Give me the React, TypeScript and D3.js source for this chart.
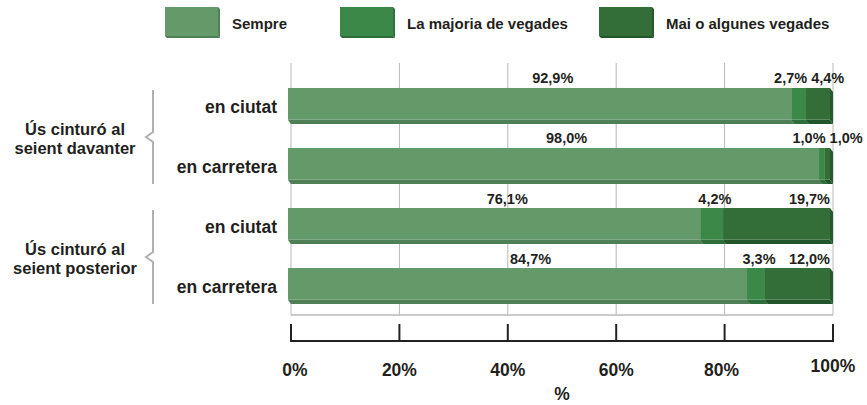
import { useRef, useEffect } from "react";
import * as d3 from "d3";

const seriesNames = ["Sempre", "La majoria de vegades", "Mai o algunes vegades"];
const rowLabels = ["en ciutat", "en carretera", "en ciutat", "en carretera"];
const groupLabels = [
  ["Ús cinturó al", "seient davanter"],
  ["Ús cinturó al", "seient posterior"],
];
const sempre = [92.9, 98.0, 76.1, 84.7];
const majoria = [2.7, 1.0, 4.2, 3.3];
const mai = [4.4, 1.0, 19.7, 12.0];
const tickValues = [0, 20, 40, 60, 80, 100];

const frontColors = ["#64996a", "#3b8849", "#336d37"];
const bottomColors = ["#4f7f55", "#2d6e3a", "#22562a"];
const sideColors = ["#557f5a", "#2f7340", "#28592c"];
const legendX = [165, 340, 599];

const FONT = "'Liberation Sans', Arial, Helvetica, sans-serif";
const fmt = (v: number) => v.toFixed(1).replace(".", ",") + "%";

export default function App() {
  const svgRef = useRef<SVGSVGElement>(null);

  useEffect(() => {
    if (!svgRef.current) return;
    const svg = d3.select(svgRef.current);
    svg.selectAll("*").remove();

    const x = d3.scaleLinear().domain([0, 100]).range([291, 833]);
    const y = d3
      .scaleBand()
      .domain(d3.range(rowLabels.length).map(String))
      .range([74, 314])
      .paddingInner(0.467)
      .paddingOuter(0.233);

    const plotTop = 63;
    const plotBottom = 315;
    const dx = 3;
    const dy = 4;

    // grid
    const grid = svg.append("g");
    tickValues.forEach((t) => {
      grid
        .append("line")
        .attr("x1", x(t))
        .attr("x2", x(t))
        .attr("y1", plotTop)
        .attr("y2", plotBottom)
        .attr("stroke", "#b8b8b8")
        .attr("stroke-width", 1);
    });
    grid
      .append("line")
      .attr("x1", x(0))
      .attr("x2", x(100))
      .attr("y1", plotBottom)
      .attr("y2", plotBottom)
      .attr("stroke", "#b8b8b8")
      .attr("stroke-width", 1.5);

    // bars (front face, bottom face, side face)
    const series = [sempre, majoria, mai];
    const bars = svg.append("g");
    rowLabels.forEach((_, ri) => {
      const y0 = y(String(ri))!;
      const y1 = y0 + y.bandwidth();
      let cum = 0;
      series.forEach((vals, si) => {
        const a = x(cum) - dx;
        const b = x(cum + vals[ri]) - dx;
        cum += vals[ri];
        bars
          .append("path")
          .attr("d", `M${a},${y1}L${b},${y1}L${b + dx},${y1 + dy}L${a + dx},${y1 + dy}Z`)
          .attr("fill", bottomColors[si]);
        bars
          .append("path")
          .attr("d", `M${b},${y0}L${b + dx},${y0 + dy}L${b + dx},${y1 + dy}L${b},${y1}Z`)
          .attr("fill", sideColors[si]);
        bars
          .append("rect")
          .attr("x", a)
          .attr("y", y0)
          .attr("width", Math.max(0, b - a))
          .attr("height", y.bandwidth())
          .attr("fill", frontColors[si]);
        bars
          .append("line")
          .attr("x1", a)
          .attr("x2", b)
          .attr("y1", y1 - 0.5)
          .attr("y2", y1 - 0.5)
          .attr("stroke", "#ffffff")
          .attr("stroke-opacity", 0.2);
      });
    });

    // value labels
    const labels = svg
      .append("g")
      .attr("font-family", FONT)
      .attr("font-weight", "bold")
      .attr("font-size", 14.5)
      .attr("fill", "#231f20");
    rowLabels.forEach((_, ri) => {
      const ly = y(String(ri))! - 4.5;
      const e1 = x(sempre[ri]);
      const e2 = x(sempre[ri] + majoria[ri]);
      const end = x(100);

      labels
        .append("text")
        .attr("x", (x(0) + e1) / 2 + 10)
        .attr("y", ly)
        .attr("text-anchor", "middle")
        .text(fmt(sempre[ri]));

      const t2 = labels.append("text").attr("y", ly).text(fmt(majoria[ri]));
      const t3 = labels.append("text").attr("y", ly).text(fmt(mai[ri]));
      const w2 = (t2.node() as SVGTextElement).getComputedTextLength();
      const w3 = (t3.node() as SVGTextElement).getComputedTextLength();
      let right2 = (e1 + e2) / 2 + w2 / 2;
      let left3 = end - 3 - w3;
      if (left3 < right2 + 4) {
        right2 = Math.min(right2, e2 - 2);
        left3 = right2 + 4;
      }
      t2.attr("x", right2 - w2);
      t3.attr("x", left3);
    });

    // category labels
    const cats = svg
      .append("g")
      .attr("font-family", FONT)
      .attr("font-weight", "bold")
      .attr("font-size", 17.5)
      .attr("fill", "#231f20");
    rowLabels.forEach((lab, ri) => {
      cats
        .append("text")
        .attr("x", 277)
        .attr("y", y(String(ri))! + y.bandwidth() / 2 + 9)
        .attr("text-anchor", "end")
        .text(lab);
    });

    // group labels and brackets
    groupLabels.forEach((lines, gi) => {
      const top = y(String(gi * 2))! + 2;
      const bot = y(String(gi * 2 + 1))! + y.bandwidth() + dy;
      const mid = (top + bot) / 2;
      svg
        .append("path")
        .attr("d", `M153,${top}V${mid - 5}L146,${mid}L153,${mid + 5}V${bot}`)
        .attr("fill", "none")
        .attr("stroke", "#b0b0b0")
        .attr("stroke-width", 2);
      lines.forEach((ln, li) => {
        svg
          .append("text")
          .attr("x", 75)
          .attr("y", mid - 2 + li * 19)
          .attr("text-anchor", "middle")
          .attr("font-family", FONT)
          .attr("font-weight", "bold")
          .attr("font-size", 16.5)
          .attr("fill", "#231f20")
          .text(ln);
      });
    });

    // bottom axis bracket
    const axisY = 341;
    const axis = svg.append("g");
    axis
      .append("line")
      .attr("x1", x(0))
      .attr("x2", x(100))
      .attr("y1", axisY)
      .attr("y2", axisY)
      .attr("stroke", "#222")
      .attr("stroke-width", 2);
    tickValues.forEach((t) => {
      axis
        .append("line")
        .attr("x1", x(t))
        .attr("x2", x(t))
        .attr("y1", 324)
        .attr("y2", axisY + 1)
        .attr("stroke", "#222")
        .attr("stroke-width", 2);
      axis
        .append("text")
        .attr("x", x(t) + (t === 0 ? 4 : t === 80 ? -3 : 0))
        .attr("y", t === 100 ? 372 : 376)
        .attr("text-anchor", "middle")
        .attr("font-family", FONT)
        .attr("font-weight", "bold")
        .attr("font-size", 17.5)
        .attr("fill", "#231f20")
        .text(`${t}%`);
    });
    axis
      .append("text")
      .attr("x", (x(0) + x(100)) / 2)
      .attr("y", 400)
      .attr("text-anchor", "middle")
      .attr("font-family", FONT)
      .attr("font-weight", "bold")
      .attr("font-size", 17.5)
      .attr("fill", "#231f20")
      .text("%");

    // legend
    const legend = svg.append("g");
    seriesNames.forEach((name, i) => {
      const lx = legendX[i];
      const sw = 53;
      const sh = 29;
      const d = 2;
      legend
        .append("path")
        .attr("d", `M${lx},${7 + sh}L${lx + sw},${7 + sh}L${lx + sw + d},${7 + sh + d}L${lx + d},${7 + sh + d}Z`)
        .attr("fill", bottomColors[i]);
      legend
        .append("path")
        .attr("d", `M${lx + sw},7L${lx + sw + d},${7 + d}L${lx + sw + d},${7 + sh + d}L${lx + sw},${7 + sh}Z`)
        .attr("fill", sideColors[i]);
      legend
        .append("rect")
        .attr("x", lx)
        .attr("y", 7)
        .attr("width", sw)
        .attr("height", sh)
        .attr("fill", frontColors[i]);
      legend
        .append("text")
        .attr("x", lx + sw + 14)
        .attr("y", 29)
        .attr("font-family", FONT)
        .attr("font-weight", "bold")
        .attr("font-size", 15)
        .attr("fill", "#231f20")
        .text(name);
    });
  }, []);

  return (
    <svg
      ref={svgRef}
      width={867}
      height={405}
      style={{ position: "absolute", left: 0, top: 0, background: "#fff" }}
    />
  );
}
